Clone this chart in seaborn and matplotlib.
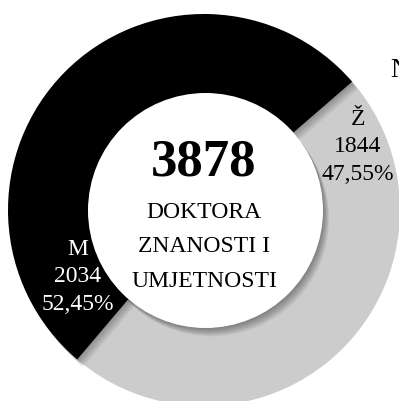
import matplotlib
matplotlib.use("Agg")
import matplotlib.pyplot as plt
import matplotlib.patheffects as pe
from matplotlib.patches import Circle
import seaborn as sns

# Data
categories = ["Ž", "M"]
counts = [1844, 2034]
caption_lines = ["DOKTORA", "ZNANOSTI I", "UMJETNOSTI"]

sns.set_theme(style="white")
plt.rcParams["font.family"] = ["Liberation Serif", "DejaVu Serif"]

W, H = 399, 401
fig = plt.figure(figsize=(W / 100, H / 100), dpi=100)
fig.patch.set_facecolor("white")
ax = fig.add_axes([0, 0, 1, 1])

colors = ["#cccccc", "#000000"]
cx, cy, R = 204, H - 210, 196

wedges, _ = ax.pie(counts, colors=colors, startangle=-130.3, counterclock=True,
                   center=(cx, cy), radius=R, frame=True,
                   wedgeprops=dict(linewidth=0))

def soft_shadow(steps=7, dx=0.6, dy=-0.8, a=0.045):
    effects = []
    for i in range(steps, 0, -1):
        effects.append(pe.SimplePatchShadow(offset=(dx * i, dy * i),
                                            shadow_rgbFace="black", alpha=a))
    effects.append(pe.Normal())
    return effects

# Black segment casts a soft shadow onto the grey one
wedges[1].set_path_effects(soft_shadow())

# White centre disc with its own shadow
hole = Circle((cx + 1.5, cy - 0.5), 117.5, facecolor="white", edgecolor="none", zorder=3)
hole.set_path_effects(soft_shadow(steps=8, dx=0.55, dy=-0.75, a=0.05))
ax.add_patch(hole)

total = sum(counts)
ax.text(cx, H - 175, f"{total}", ha="center", va="baseline", fontsize=38,
        fontweight="bold", color="black", zorder=5)
for i, line in enumerate(caption_lines):
    ax.text(cx, H - (218 + 34.5 * i), line, ha="center", va="baseline",
            fontsize=17, color="black", zorder=5)

def pct(v):
    return f"{100 * v / total:.2f}%".replace(".", ",")

label_pos = {"Ž": (358, 125, "black"), "M": (78, 255, "white")}
for cat, val in zip(categories, counts):
    x, base, col = label_pos[cat]
    for j, line in enumerate([cat, str(val), pct(val)]):
        ax.text(x, H - (base + 27.5 * j), line, ha="center", va="baseline",
                fontsize=17, color=col, zorder=5)

ax.text(390, H - 77, "N", ha="left", va="baseline", fontsize=19.5, color="black", zorder=5)

ax.set_xlim(0, W)
ax.set_ylim(0, H)
ax.set_aspect("equal")
ax.axis("off")

fig.savefig("out.png", dpi=100, facecolor="white")
